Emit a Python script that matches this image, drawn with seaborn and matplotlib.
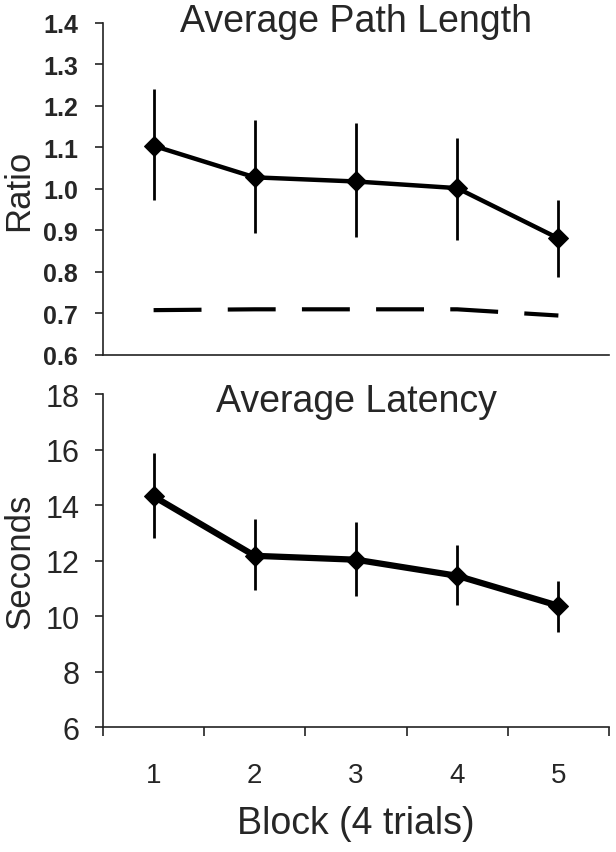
import numpy as np
import pandas as pd
import matplotlib
matplotlib.use('Agg')
import matplotlib.pyplot as plt
import seaborn as sns

# data
blocks = [1, 2, 3, 4, 5]
path_mean = [1.104, 1.028, 1.018, 1.002, 0.881]
path_low = [0.973, 0.893, 0.885, 0.878, 0.789]
path_high = [1.241, 1.165, 1.158, 1.123, 0.974]
path_ref = [0.708, 0.710, 0.710, 0.710, 0.695]

lat_mean = [14.31, 12.17, 12.03, 11.45, 10.37]
lat_low = [12.80, 10.95, 10.73, 10.40, 9.43]
lat_high = [15.87, 13.50, 13.38, 12.56, 11.27]

sns.set_style('ticks')
plt.rcParams['font.family'] = ['Liberation Sans', 'DejaVu Sans']

df_path = pd.DataFrame({'block': blocks, 'mean': path_mean, 'ref': path_ref})
df_lat = pd.DataFrame({'block': blocks, 'mean': lat_mean})

fig = plt.figure(figsize=(6.16, 8.53), dpi=100)
ax1 = fig.add_axes([0.1672, 0.5827, 0.8214, 0.3892])
ax2 = fig.add_axes([0.1672, 0.1465, 0.8214, 0.3904])

spine_col = '#222222'

# top panel
ax1.vlines(blocks, path_low, path_high, color='black', lw=2.0, zorder=2)
sns.lineplot(data=df_path, x='block', y='mean', ax=ax1, color='black', lw=3.2,
             marker='D', markersize=10, markeredgecolor='black', zorder=3)
sns.lineplot(data=df_path, x='block', y='ref', ax=ax1, color='black', lw=3.0,
             linestyle=(0, (11.5, 6.3)), zorder=3)
ax1.set_ylim(0.6, 1.4)
yt = np.arange(0.6, 1.41, 0.1)
ax1.set_yticks(yt)
ax1.set_yticklabels([f'{v:.1f}' for v in yt], fontweight='bold', fontsize=18)
ax1.set_xlim(0.5, 5.5)
ax1.set_xticks([])
ax1.set_xlabel('')
ax1.set_ylabel('Ratio', fontsize=25)
ax1.yaxis.set_label_coords(-0.135, 0.5)
ax1.tick_params(axis='y', length=6, width=1.2, color=spine_col, pad=12)
ax1.text(0.5, 0.976, 'Average Path Length', transform=ax1.transAxes,
         ha='center', va='baseline', fontsize=27)

# bottom panel
ax2.vlines(blocks, lat_low, lat_high, color='black', lw=2.0, zorder=2)
sns.lineplot(data=df_lat, x='block', y='mean', ax=ax2, color='black', lw=4.5,
             marker='D', markersize=10, markeredgecolor='black', zorder=3)
ax2.set_ylim(6, 18)
ax2.set_yticks(range(6, 19, 2))
ax2.set_xlim(0.5, 5.5)
ax2.set_xticks(np.arange(0.5, 5.6, 1))
ax2.set_xticklabels([])
ax2.set_xticks(blocks, minor=True)
ax2.set_xticklabels([str(b) for b in blocks], minor=True)
ax2.tick_params(axis='x', which='major', length=6.5, width=1.2, color=spine_col)
ax2.tick_params(axis='x', which='minor', length=0, labelsize=20, pad=25)
ax2.tick_params(axis='y', length=6, width=1.2, color=spine_col, labelsize=22, pad=11)
ax2.set_ylabel('Seconds', fontsize=25)
ax2.yaxis.set_label_coords(-0.132, 0.5)
ax2.set_xlabel('Block (4 trials)', fontsize=27)
ax2.xaxis.set_label_coords(0.5, -0.235)
ax2.text(0.5, 0.949, 'Average Latency', transform=ax2.transAxes,
         ha='center', va='baseline', fontsize=27)

for ax in (ax1, ax2):
    sns.despine(ax=ax)
    for s in ('left', 'bottom'):
        ax.spines[s].set_linewidth(1.2)
        ax.spines[s].set_color(spine_col)

fig.savefig('out.png', dpi=100)
